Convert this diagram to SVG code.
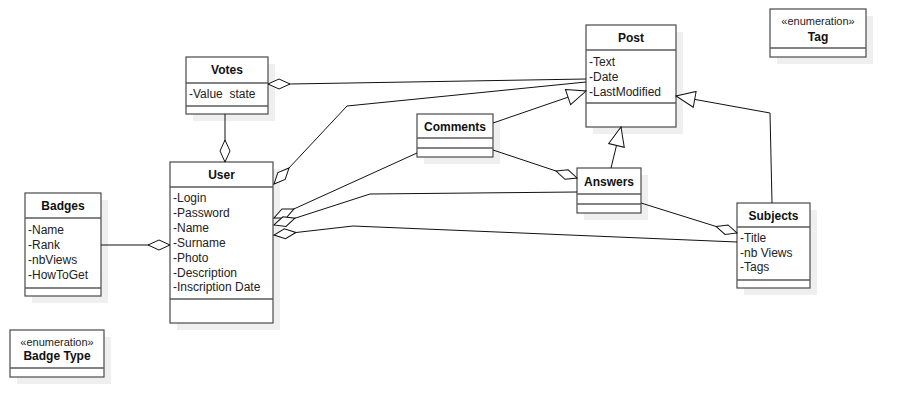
<svg xmlns="http://www.w3.org/2000/svg" width="905" height="417" viewBox="0 0 905 417">
<style>
.sh{fill:#efefef;stroke:none}
.bx{fill:#fff;stroke:#4a4a4a;stroke-width:1.2}
.sep{stroke:#5a5a5a;stroke-width:1.3}
.t{font-family:"Liberation Sans",Arial,sans-serif;font-size:12px;font-weight:bold;fill:#111;text-anchor:middle}
.a{font-family:"Liberation Sans",Arial,sans-serif;font-size:12px;fill:#222;white-space:pre}
.st{font-family:"Liberation Sans",Arial,sans-serif;font-size:11px;fill:#222;text-anchor:middle}
.c{fill:none;stroke:#111;stroke-width:1}
</style>
<defs>
<marker id="dia" markerUnits="userSpaceOnUse" markerWidth="26" markerHeight="14" viewBox="-1 -7 26 14" refX="22" refY="0" orient="auto">
<path d="M0,0 L11,-5 L22,0 L11,5 Z" fill="#fff" stroke="#111" stroke-width="1"/>
</marker>
<marker id="tri" markerUnits="userSpaceOnUse" markerWidth="22" markerHeight="18" viewBox="-1 -9 22 18" refX="19" refY="0" orient="auto">
<path d="M0,-8 L19,0 L0,8 Z" fill="#fff" stroke="#111" stroke-width="1"/>
</marker>
</defs>
<g id="votes">
<rect class="sh" x="193" y="64" width="82" height="57"/>
<rect class="bx" x="186" y="57" width="82" height="57"/>
<line class="sep" x1="186" y1="83" x2="268" y2="83"/>
<line class="sep" x1="186" y1="106" x2="268" y2="106"/>
<text class="t" x="227" y="74">Votes</text>
<text class="a" x="189" y="98">-Value  state</text>
</g>
<g id="user">
<rect class="sh" x="177" y="169" width="103" height="161"/>
<rect class="bx" x="170" y="162" width="103" height="161"/>
<line class="sep" x1="170" y1="187" x2="273" y2="187"/>
<line class="sep" x1="170" y1="299" x2="273" y2="299"/>
<text class="t" x="221.5" y="178.5">User</text>
<text class="a" x="173" y="202">-Login</text>
<text class="a" x="173" y="217">-Password</text>
<text class="a" x="173" y="231.5">-Name</text>
<text class="a" x="173" y="246.5">-Surname</text>
<text class="a" x="173" y="261.5">-Photo</text>
<text class="a" x="173" y="276.5">-Description</text>
<text class="a" x="173" y="291">-Inscription Date</text>
</g>
<g id="badges">
<rect class="sh" x="32" y="200" width="76" height="103"/>
<rect class="bx" x="25" y="193" width="76" height="103"/>
<line class="sep" x1="25" y1="218" x2="101" y2="218"/>
<line class="sep" x1="25" y1="288" x2="101" y2="288"/>
<text class="t" x="63" y="210">Badges</text>
<text class="a" x="28" y="233.5">-Name</text>
<text class="a" x="28" y="248.5">-Rank</text>
<text class="a" x="28" y="264">-nbViews</text>
<text class="a" x="28" y="279">-HowToGet</text>
</g>
<g id="post">
<rect class="sh" x="593" y="32" width="90" height="102"/>
<rect class="bx" x="586" y="25" width="90" height="102"/>
<line class="sep" x1="586" y1="50" x2="676" y2="50"/>
<line class="sep" x1="586" y1="103" x2="676" y2="103"/>
<text class="t" x="631" y="42">Post</text>
<text class="a" x="589" y="66">-Text</text>
<text class="a" x="589" y="81">-Date</text>
<text class="a" x="589" y="95.5">-LastModified</text>
</g>
<g id="tag">
<rect class="sh" x="777" y="16" width="96" height="48"/>
<rect class="bx" x="770" y="9" width="96" height="48"/>
<line class="sep" x1="770" y1="48" x2="866" y2="48"/>
<text class="st" x="818" y="24.5">«enumeration»</text>
<text class="t" x="818" y="41">Tag</text>
</g>
<g id="badgetype">
<rect class="sh" x="17" y="337" width="94" height="47"/>
<rect class="bx" x="10" y="330" width="94" height="47"/>
<line class="sep" x1="10" y1="368" x2="104" y2="368"/>
<text class="st" x="57" y="345.5">«enumeration»</text>
<text class="t" x="57" y="359.5">Badge Type</text>
</g>
<g id="comments">
<rect class="sh" x="424" y="121" width="76" height="43"/>
<rect class="bx" x="417" y="114" width="76" height="43"/>
<line class="sep" x1="417" y1="138" x2="493" y2="138"/>
<line class="sep" x1="417" y1="148" x2="493" y2="148"/>
<text class="t" x="455" y="130.5">Comments</text>
</g>
<g id="answers">
<rect class="sh" x="584" y="175" width="64" height="45"/>
<rect class="bx" x="577" y="168" width="64" height="45"/>
<line class="sep" x1="577" y1="194" x2="641" y2="194"/>
<line class="sep" x1="577" y1="204" x2="641" y2="204"/>
<text class="t" x="609" y="185.5">Answers</text>
</g>
<g id="subjects">
<rect class="sh" x="744" y="210" width="73" height="85"/>
<rect class="bx" x="737" y="203" width="73" height="85"/>
<line class="sep" x1="737" y1="227" x2="810" y2="227"/>
<line class="sep" x1="737" y1="280" x2="810" y2="280"/>
<text class="t" x="773.5" y="219.5">Subjects</text>
<text class="a" x="740" y="242">-Title</text>
<text class="a" x="740" y="256.5">-nb Views</text>
<text class="a" x="740" y="271">-Tags</text>
</g>
<g id="connectors">
<path class="c" d="M586,79 L290,84 L268,84" marker-end="url(#dia)"/>
<path class="c" d="M225,114 L225,162" marker-end="url(#dia)"/>
<path class="c" d="M101,245 L170,245" marker-end="url(#dia)"/>
<path class="c" d="M586,82 L347,106 L274,184" marker-end="url(#dia)"/>
<path class="c" d="M417,153 L274,218" marker-end="url(#dia)"/>
<path class="c" d="M577,192 L370,194 L274,225" marker-end="url(#dia)"/>
<path class="c" d="M737,242 L353,226 L274,235" marker-end="url(#dia)"/>
<path class="c" d="M493,150 L577,178" marker-end="url(#dia)"/>
<path class="c" d="M641,203 L737,233" marker-end="url(#dia)"/>
<path class="c" d="M493,123 L586,91" marker-end="url(#tri)"/>
<path class="c" d="M611,168 L621,127" marker-end="url(#tri)"/>
<path class="c" d="M772,203 L770,113 L676,96" marker-end="url(#tri)"/>
</g>
</svg>
